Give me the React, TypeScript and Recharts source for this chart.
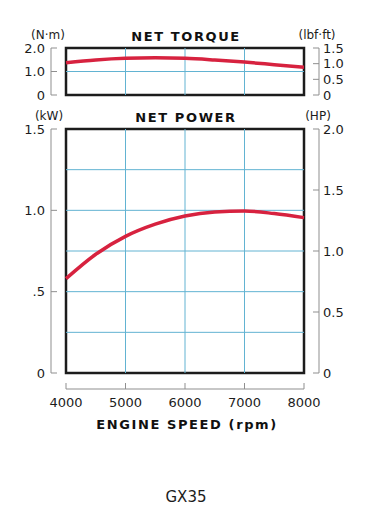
import React from 'react';
import { LineChart, Line, XAxis, YAxis, ReferenceArea, ReferenceLine } from 'recharts';

// engine speed (rpm)
const rpm = [4000, 4500, 5000, 5500, 6000, 6500, 7000, 7500, 8000];
// net torque, N·m
const torqueNm = [1.37, 1.49, 1.56, 1.58, 1.56, 1.49, 1.4, 1.29, 1.18];
// net power, kW
const powerKw = [0.58, 0.73, 0.84, 0.915, 0.965, 0.99, 0.996, 0.98, 0.955];

const rpmTicks = [4000, 5000, 6000, 7000, 8000];
const rpmGrid = [5000, 6000, 7000];

const nmTicks = [0, 1, 2];
const nmLabels = ['0', '1.0', '2.0'];
const lbfTicks = [0, 0.5, 1, 1.5];
const lbfLabels = ['0', '0.5', '1.0', '1.5'];
const torqueGrid = [1];

const kwTicks = [0, 0.5, 1, 1.5];
const kwLabels = ['0', '.5', '1.0', '1.5'];
const hpTicks = [0, 0.5, 1, 1.5, 2];
const hpLabels = ['0', '0.5', '1.0', '1.5', '2.0'];
const powerGrid = [0.25, 0.5, 0.75, 1, 1.25];

const torqueData = rpm.map((r, i) => ({ rpm: r, nm: torqueNm[i] }));
const powerData = rpm.map((r, i) => ({ rpm: r, kw: powerKw[i] }));

const FONT = '"DejaVu Sans", Verdana, sans-serif';
const RED = '#d7223f';
const GRID = '#62b3d2';
const AXIS = '#8f8f8f';
const INK = '#1c1c1c';

const makeTick = (ticks: number[], labels: string[], side: 'left' | 'right' | 'bottom') =>
  (props: any) => {
    const { x, y, payload } = props;
    const label = labels[ticks.indexOf(payload.value)] ?? String(payload.value);
    if (side === 'left') {
      return (
        <g>
          <line x1={x} y1={y} x2={x + 6} y2={y} stroke={AXIS} strokeWidth={1} />
          <text x={x - 6} y={y} dy={4.7} textAnchor="end" fontFamily={FONT} fontSize={13} fill={INK}>
            {label}
          </text>
        </g>
      );
    }
    if (side === 'right') {
      return (
        <g>
          <line x1={x - 6} y1={y} x2={x} y2={y} stroke={AXIS} strokeWidth={1} />
          <text x={x + 4} y={y} dy={4.7} textAnchor="start" fontFamily={FONT} fontSize={13} fill={INK}>
            {label}
          </text>
        </g>
      );
    }
    return (
      <g>
        <line x1={x} y1={y - 6} x2={x} y2={y} stroke={AXIS} strokeWidth={1} />
        <text x={x} y={y + 18} textAnchor="middle" fontFamily={FONT} fontSize={13} fill={INK}>
          {label}
        </text>
      </g>
    );
  };

const TorqueChart = () => (
  <LineChart width={388} height={110} data={torqueData} margin={{ top: 48, right: 0, bottom: 15, left: 0 }}>
    <XAxis type="number" dataKey="rpm" domain={[4000, 8000]} padding={{ left: 15, right: 15 }} hide />
    <YAxis
      yAxisId="nm"
      orientation="left"
      width={51}
      type="number"
      domain={[0, 2]}
      ticks={nmTicks}
      interval={0}
      tickSize={0}
      tickMargin={0}
      tickLine={false}
      axisLine={{ stroke: AXIS }}
      tick={makeTick(nmTicks, nmLabels, 'left')}
    />
    <YAxis
      yAxisId="lbf"
      orientation="right"
      width={69}
      type="number"
      domain={[0, 1.5]}
      allowDataOverflow
      ticks={lbfTicks}
      interval={0}
      tickSize={0}
      tickMargin={0}
      tickLine={false}
      axisLine={{ stroke: AXIS }}
      tick={makeTick(lbfTicks, lbfLabels, 'right')}
    />
    {rpmGrid.map((r) => (
      <ReferenceLine key={'v' + r} yAxisId="nm" x={r} stroke={GRID} strokeWidth={1} />
    ))}
    {torqueGrid.map((v) => (
      <ReferenceLine
        key={'h' + v}
        yAxisId="nm"
        segment={[{ x: 4000, y: v }, { x: 8000, y: v }]}
        stroke={GRID}
        strokeWidth={1}
      />
    ))}
    <ReferenceArea
      yAxisId="nm"
      x1={4000}
      x2={8000}
      y1={0}
      y2={2}
      fill="none"
      fillOpacity={0}
      stroke={INK}
      strokeWidth={2.5}
      ifOverflow="visible"
    />
    <Line yAxisId="lbf" dataKey="nm" stroke="none" strokeWidth={0} dot={false} activeDot={false} isAnimationActive={false} />
    <Line
      yAxisId="nm"
      type="monotone"
      dataKey="nm"
      stroke={RED}
      strokeWidth={3.5}
      dot={false}
      activeDot={false}
      isAnimationActive={false}
    />
  </LineChart>
);

const PowerChart = () => (
  <LineChart width={388} height={280} data={powerData} margin={{ top: 29, right: 0, bottom: 7, left: 0 }}>
    <XAxis type="number" dataKey="rpm" domain={[4000, 8000]} padding={{ left: 15, right: 15 }} hide />
    <YAxis
      yAxisId="kw"
      orientation="left"
      width={51}
      type="number"
      domain={[0, 1.5]}
      ticks={kwTicks}
      interval={0}
      tickSize={0}
      tickMargin={0}
      tickLine={false}
      axisLine={{ stroke: AXIS }}
      tick={makeTick(kwTicks, kwLabels, 'left')}
    />
    <YAxis
      yAxisId="hp"
      orientation="right"
      width={69}
      type="number"
      domain={[0, 2]}
      allowDataOverflow
      ticks={hpTicks}
      interval={0}
      tickSize={0}
      tickMargin={0}
      tickLine={false}
      axisLine={{ stroke: AXIS }}
      tick={makeTick(hpTicks, hpLabels, 'right')}
    />
    {rpmGrid.map((r) => (
      <ReferenceLine key={'v' + r} yAxisId="kw" x={r} stroke={GRID} strokeWidth={1} />
    ))}
    {powerGrid.map((v) => (
      <ReferenceLine
        key={'h' + v}
        yAxisId="kw"
        segment={[{ x: 4000, y: v }, { x: 8000, y: v }]}
        stroke={GRID}
        strokeWidth={1}
      />
    ))}
    <ReferenceArea
      yAxisId="kw"
      x1={4000}
      x2={8000}
      y1={0}
      y2={1.5}
      fill="none"
      fillOpacity={0}
      stroke={INK}
      strokeWidth={2.5}
      ifOverflow="visible"
    />
    <Line yAxisId="hp" dataKey="kw" stroke="none" strokeWidth={0} dot={false} activeDot={false} isAnimationActive={false} />
    <Line
      yAxisId="kw"
      type="monotone"
      dataKey="kw"
      stroke={RED}
      strokeWidth={3.5}
      dot={false}
      activeDot={false}
      isAnimationActive={false}
    />
  </LineChart>
);

const SpeedAxis = () => (
  <LineChart width={388} height={60} data={powerData} margin={{ top: 0, right: 84, bottom: 0, left: 66 }}>
    <XAxis
      type="number"
      dataKey="rpm"
      domain={[4000, 8000]}
      ticks={rpmTicks}
      interval={0}
      height={41}
      tickSize={0}
      tickMargin={0}
      tickLine={false}
      axisLine={{ stroke: AXIS }}
      tick={makeTick(rpmTicks, rpmTicks.map(String), 'bottom')}
    />
    <YAxis hide domain={[0, 1.5]} />
    <Line dataKey="kw" stroke="none" dot={false} activeDot={false} isAnimationActive={false} />
  </LineChart>
);

export default function App() {
  const title = { fontFamily: FONT, fontSize: 13, fontWeight: 700, letterSpacing: 1.6, fill: '#111' } as const;
  const unit = { fontFamily: FONT, fontSize: 12, fill: INK } as const;
  return (
    <div style={{ position: 'absolute', left: 0, top: 0, width: 388, height: 522, background: '#fff' }}>
      <div style={{ position: 'absolute', left: 0, top: 0 }}>
        <TorqueChart />
      </div>
      <div style={{ position: 'absolute', left: 0, top: 100 }}>
        <PowerChart />
      </div>
      <div style={{ position: 'absolute', left: 0, top: 370 }}>
        <SpeedAxis />
      </div>
      <svg width={388} height={522} style={{ position: 'absolute', left: 0, top: 0, pointerEvents: 'none' }}>
        <text x={186} y={41} textAnchor="middle" {...title}>NET TORQUE</text>
        <text x={186} y={122} textAnchor="middle" {...title}>NET POWER</text>
        <text x={48} y={39} textAnchor="middle" {...unit}>(N·m)</text>
        <text x={317} y={39} textAnchor="middle" {...unit}>(lbf·ft)</text>
        <text x={49} y={120} textAnchor="middle" {...unit}>(kW)</text>
        <text x={318} y={120} textAnchor="middle" {...unit}>(HP)</text>
        <text x={187} y={429} textAnchor="middle" {...title}>ENGINE SPEED (rpm)</text>
        <text x={186} y={502} textAnchor="middle" fontFamily={FONT} fontSize={15} fill={INK}>GX35</text>
      </svg>
    </div>
  );
}
